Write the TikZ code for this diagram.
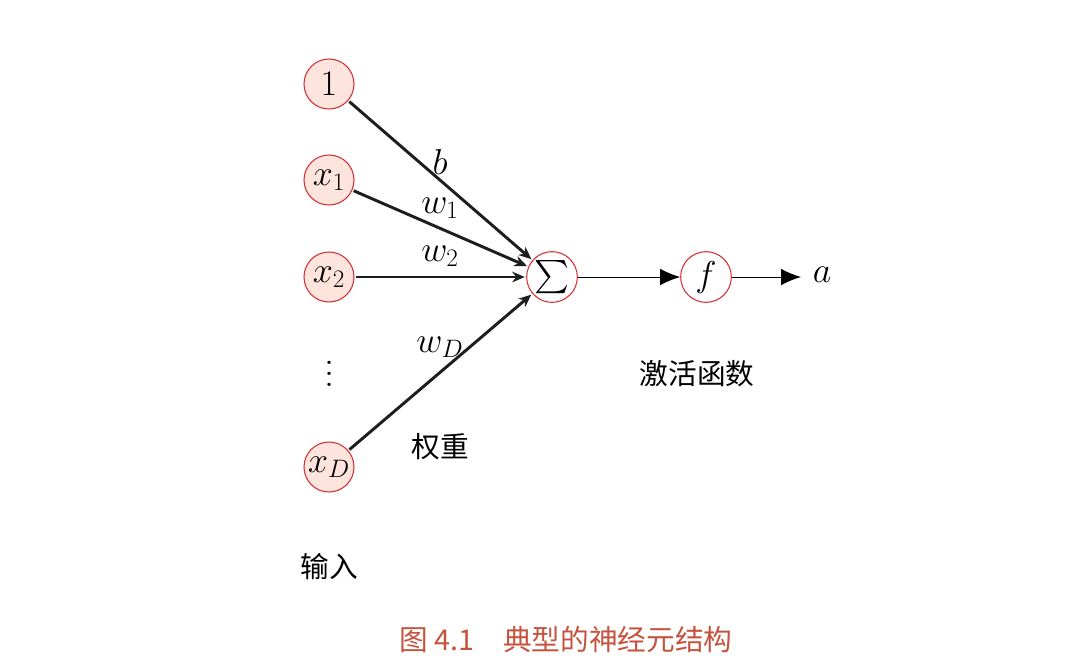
\RequirePackage{fix-cm}
\documentclass[tikz,border=0pt]{standalone}
\usepackage{amsmath}
\usepackage{fontspec}
\newfontfamily\cjk{Noto Sans CJK SC}
\usetikzlibrary{arrows.meta}
\definecolor{nodered}{RGB}{214,48,52}
\definecolor{nodefill}{RGB}{253,228,221}
\definecolor{edgegray}{RGB}{30,30,30}
\definecolor{capcol}{RGB}{196,84,62}
\begin{document}
\begin{tikzpicture}[x=0.75pt,y=-0.75pt,
  every node/.style={font=\fontsize{27}{32}\selectfont},
  inp/.style={circle,draw=nodered,fill=nodefill,line width=0.8pt,minimum size=37.5pt,inner sep=0pt},
  neu/.style={circle,draw=nodered,fill=white,line width=0.8pt,minimum size=38pt,inner sep=0pt},
  wedge/.style={draw=edgegray,line width=2.2pt,-{Stealth[length=9.5pt,width=8pt]},shorten <=1pt,shorten >=1pt},
  outedge/.style={draw=black,line width=0.75pt,-{Latex[length=15pt,width=12.5pt]}},
  lab/.style={inner sep=0pt},
  cjktext/.style={inner sep=0pt,font=\fontsize{21.5}{25}\selectfont\cjk}]
\useasboundingbox (0,0) rectangle (1071,669);
\node[inp] (one) at (329,84) {$1$};
\node[inp] (x1) at (329,180) {$x_1$};
\node[inp] (x2) at (329,277) {$x_2$};
\node[lab,font=\fontsize{30}{34}\selectfont] (dots) at (329,374) {\vbox{\baselineskip=8pt\lineskiplimit=0pt\hbox{.}\hbox{.}\hbox{.}}};
\node[inp] (xD) at (329,467) {$x_D$};
\node[neu] (sum) at (552,277) {$\sum$};
\node[neu] (f) at (706,277) {$f$};
\node[lab] (a) at (822,275) {$a$};
\coordinate (aend) at (801,277);
\draw[wedge] (one) -- (sum);
\draw[wedge] (x1) -- (sum);
\draw[wedge] (x2) -- (sum);
\draw[wedge] (xD) -- (sum);
\draw[outedge] (sum) -- (f);
\draw[outedge] (f) -- (aend);
\node[lab] (lb) at (440,162) {$b$};
\node[lab] (lw1) at (440,208) {$w_1$};
\node[lab] (lw2) at (440,256) {$w_2$};
\node[lab] (lwD) at (440,347) {$w_D$};
\node[cjktext] (act) at (697,374) {激活函数};
\node[cjktext] (wt) at (440,447) {权重};
\node[cjktext] (inl) at (329,567) {输入};
\node[cjktext,text=capcol] (cap) at (566,640) {图\ 4.1\quad 典型的神经元结构};
\end{tikzpicture}
\end{document}
